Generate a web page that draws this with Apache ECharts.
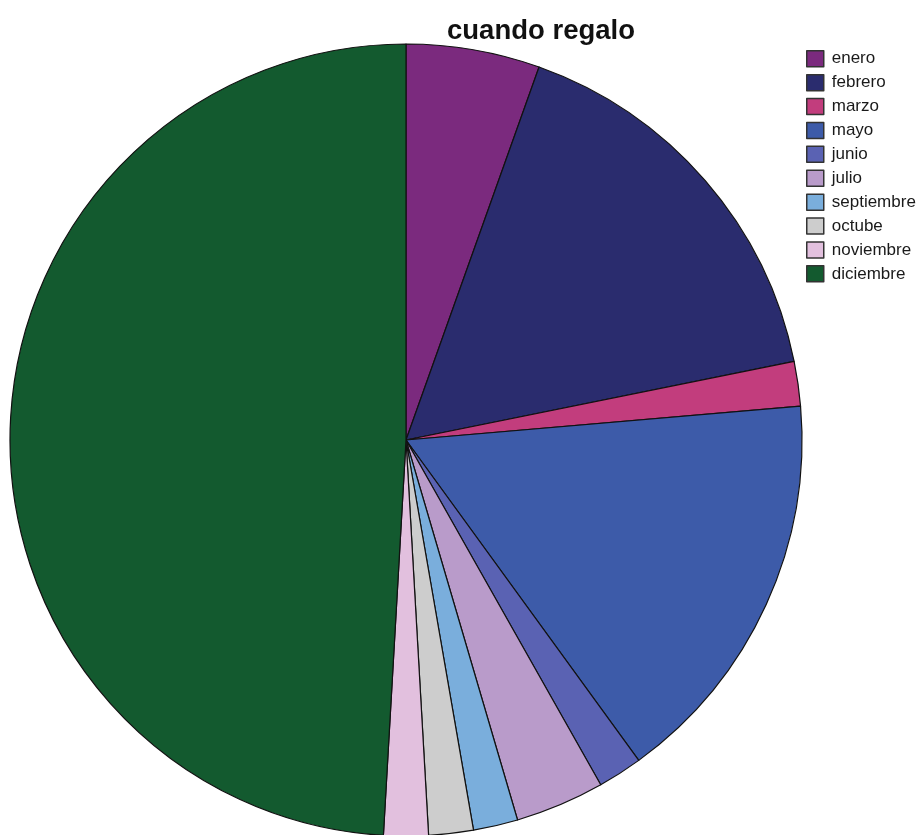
<!DOCTYPE html>
<html>
<head>
<meta charset="utf-8">
<script src="https://cdn.jsdelivr.net/npm/echarts@6/dist/echarts.min.js"></script>
<style>
  html, body { margin: 0; padding: 0; background: #fff; }
  #chart { width: 922px; height: 835px; }
</style>
</head>
<body>
<div id="chart"></div>
<script>
// Months in which gifts are given, with response counts
const months = ['enero', 'febrero', 'marzo', 'mayo', 'junio', 'julio', 'septiembre', 'octube', 'noviembre', 'diciembre'];
const counts = [3, 9, 1, 9, 1, 2, 1, 1, 1, 27];
const colors = ['#7B2A7E', '#2A2C6E', '#C23D7D', '#3D5BA9', '#5A62B3', '#B99BCA', '#7AAEDC', '#CDCDCD', '#E2C0DE', '#135A2F'];

const chart = echarts.init(document.getElementById('chart'), null, { renderer: 'canvas' });
chart.setOption({
  animation: false,
  backgroundColor: '#ffffff',
  title: {
    text: 'cuando regalo',
    left: 536,
    top: 12,
    textAlign: 'center',
    textStyle: { fontFamily: 'Liberation Sans, Arial, sans-serif', fontSize: 27.5, fontWeight: 'bold', color: '#111' }
  },
  legend: {
    orient: 'vertical',
    left: 806,
    top: 50,
    padding: 0,
    itemWidth: 17,
    itemHeight: 16,
    itemGap: 6.4,
    icon: 'rect',
    data: months,
    itemStyle: { borderColor: '#333', borderWidth: 1.5 },
    textStyle: { fontFamily: 'Liberation Sans, Arial, sans-serif', fontSize: 17, color: '#1a1a1a', padding: [0, 0, 0, 3] }
  },
  series: [{
    type: 'pie',
    center: [406, 440],
    radius: 396,
    startAngle: 90,
    clockwise: true,
    label: { show: false },
    labelLine: { show: false },
    emphasis: { disabled: true },
    itemStyle: { borderColor: '#111', borderWidth: 1.2 },
    data: months.map((m, i) => ({ name: m, value: counts[i], itemStyle: { color: colors[i] } }))
  }]
});
</script>
</body>
</html>
